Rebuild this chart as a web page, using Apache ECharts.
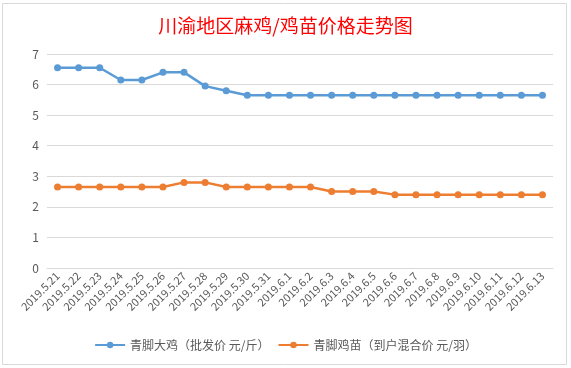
<!DOCTYPE html>
<html>
<head>
<meta charset="utf-8">
<script src="https://cdn.jsdelivr.net/npm/echarts@6/dist/echarts.min.js"></script>
<style>
html,body{margin:0;padding:0;background:#fff;}
#c{width:571px;height:368px;}
</style>
</head>
<body>
<div id="c"></div>
<script>
var categories = ['2019.5.21','2019.5.22','2019.5.23','2019.5.24','2019.5.25','2019.5.26','2019.5.27','2019.5.28','2019.5.29','2019.5.30','2019.5.31','2019.6.1','2019.6.2','2019.6.3','2019.6.4','2019.6.5','2019.6.6','2019.6.7','2019.6.8','2019.6.9','2019.6.10','2019.6.11','2019.6.12','2019.6.13'];
var chickenPrice = [6.55,6.55,6.55,6.15,6.15,6.4,6.4,5.95,5.8,5.65,5.65,5.65,5.65,5.65,5.65,5.65,5.65,5.65,5.65,5.65,5.65,5.65,5.65,5.65];
var chickPrice = [2.65,2.65,2.65,2.65,2.65,2.65,2.8,2.8,2.65,2.65,2.65,2.65,2.65,2.5,2.5,2.5,2.4,2.4,2.4,2.4,2.4,2.4,2.4,2.4];
var seriesNames = ['青脚大鸡（批发价 元/斤）','青脚鸡苗（到户混合价 元/羽）'];
var titleText = '川渝地区麻鸡/鸡苗价格走势图';

var font = '"Noto Sans CJK SC", "Microsoft YaHei", sans-serif';
var chart = echarts.init(document.getElementById('c'), null, {renderer:'canvas'});
chart.setOption({
  backgroundColor: '#ffffff',
  animation: false,
  title: {
    text: titleText,
    left: 'center',
    top: 11,
    textStyle: {color: '#ff0000', fontSize: 19, fontWeight: 'normal', fontFamily: font}
  },
  graphic: [
    {type: 'rect', shape: {x: 2.5, y: 3.5, width: 564, height: 361}, style: {fill: 'none', stroke: '#d9d9d9', lineWidth: 1}, silent: true}
  ],
  legend: {
    bottom: 12,
    left: 'center',
    itemWidth: 30,
    itemHeight: 8,
    itemGap: 8,
    textStyle: {color: '#595959', fontSize: 12, fontFamily: font},
    data: seriesNames
  },
  grid: {left: 47, right: 18, top: 54, bottom: 100, containLabel: false},
  xAxis: {
    type: 'category',
    data: categories,
    boundaryGap: true,
    axisLine: {show: true, lineStyle: {color: '#d9d9d9'}},
    axisTick: {show: false},
    axisLabel: {rotate: 45, interval: 0, color: '#595959', fontSize: 11, fontFamily: font, margin: 6}
  },
  yAxis: {
    type: 'value',
    min: 0,
    max: 7,
    interval: 1,
    axisLine: {show: false},
    axisTick: {show: false},
    axisLabel: {color: '#595959', fontSize: 12, fontFamily: font, margin: 8},
    splitLine: {lineStyle: {color: '#d9d9d9', width: 1}}
  },
  series: [
    {
      name: seriesNames[0], type: 'line', data: chickenPrice,
      symbol: 'circle', symbolSize: 7,
      itemStyle: {color: '#5b9bd5'},
      lineStyle: {color: '#5b9bd5', width: 2.5}
    },
    {
      name: seriesNames[1], type: 'line', data: chickPrice,
      symbol: 'circle', symbolSize: 7,
      itemStyle: {color: '#ed7d31'},
      lineStyle: {color: '#ed7d31', width: 2.5}
    }
  ]
});
</script>
</body>
</html>
